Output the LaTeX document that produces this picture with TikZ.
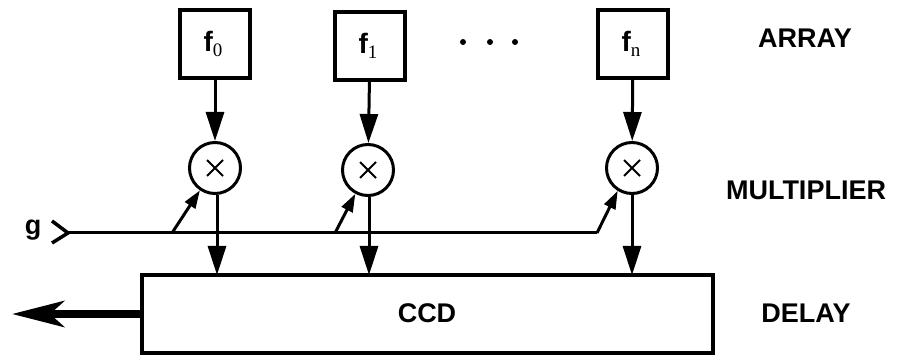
\documentclass[tikz,border=0pt]{standalone}
\usepackage{fontspec}
\setmainfont{Liberation Sans}
\newfontfamily\subfont{Liberation Serif}
\usetikzlibrary{arrows.meta}
\tikzset{
  coefbox/.style={draw, line width=3.2pt, minimum width=70pt, minimum height=68pt, inner sep=0pt},
  mult/.style={draw, circle, line width=3pt, minimum size=51pt, inner sep=0pt,
    path picture={\draw[line width=2pt]
      ([shift={(-8pt,-8pt)}]path picture bounding box.center) -- ++(16pt,16pt)
      ([shift={(-8pt,8pt)}]path picture bounding box.center) -- ++(16pt,-16pt);}},
  delaybox/.style={draw, line width=3.2pt, minimum width=571pt, minimum height=78pt, inner sep=0pt},
  sig/.style={line width=3pt, -{Triangle[length=29pt,width=18pt]}},
  tap/.style={line width=3pt, -{Triangle[length=18pt,width=12pt]}},
  bus/.style={line width=3pt},
  outarrow/.style={line width=8pt, -{Stealth[length=52pt,width=26pt,inset=14pt]}},
  lbl/.style={font=\fontsize{27}{30}\selectfont\bfseries, inner sep=0pt},
  coef/.style={font=\fontsize{28}{30}\selectfont\bfseries, inner sep=0pt},
  dot/.style={circle, fill, minimum size=6pt, inner sep=0pt}
}
\newcommand{\coefsub}[1]{\raisebox{-5pt}{\subfont\mdseries\fontsize{19}{19}\selectfont #1}}
\begin{document}
\begin{tikzpicture}[x=1pt, y=-1pt]
  \useasboundingbox (0,0) rectangle (902,355);

  % coefficient array
  \node[coefbox] (a0) at (215,44) {};
  \node[coefbox] (a1) at (370,46) {};
  \node[coefbox] (an) at (633,44) {};
  \node[coef] (t0) at (213,44) {f\coefsub{0}};
  \node[coef] (t1) at (368,46) {f\coefsub{1}};
  \node[coef] (tn) at (631,44) {f\coefsub{n}};
  \node[dot] (d1) at (463,42) {};
  \node[dot] (d2) at (490,42) {};
  \node[dot] (d3) at (515,42) {};

  % multipliers
  \node[mult] (m0) at (215,168) {};
  \node[mult] (m1) at (368,170) {};
  \node[mult] (mn) at (632,168) {};

  % CCD delay line
  \node[delaybox] (ccd) at (427.5,314) {};
  \node[lbl] (ccdtext) at (427,313) {CCD};

  % row labels
  \node[lbl] (larray) at (805,38) {ARRAY};
  \node[lbl] (lmult) at (806,190) {MULTIPLIER};
  \node[lbl] (ldelay) at (806,313) {DELAY};

  % coefficients into the multipliers
  \draw[sig] (a0) -- (m0);
  \draw[sig] (a1) -- (m1);
  \draw[sig] (an) -- (mn);

  % products into the delay line
  \coordinate (p0) at (217,275);
  \coordinate (p1) at (369,275);
  \coordinate (pn) at (632,275);
  \draw[sig] (m0.south -| p0) -- (p0);
  \draw[sig] (m1.south -| p1) -- (p1);
  \draw[sig] (mn.south -| pn) -- (pn);

  % input g and its bus
  \node[lbl] (g) at (33,230) {g};
  \coordinate (gin) at (68,233);
  \coordinate (b0) at (172,233);
  \coordinate (b1) at (335,233);
  \coordinate (gturn) at (597,233);
  \draw[line width=3.5pt, line join=miter] ([shift={(-16pt,-10pt)}]gin) -- (gin) -- ([shift={(-16pt,12pt)}]gin);
  \draw[bus] (gin) -- (gturn);
  \draw[tap] (gturn) -- (mn.238);
  \draw[tap] (b0) -- (m0.236);
  \draw[tap] (b1) -- (m1.242);

  % output
  \coordinate (out) at (12,314);
  \draw[outarrow] (ccd.west) -- (out);
\end{tikzpicture}
\end{document}
